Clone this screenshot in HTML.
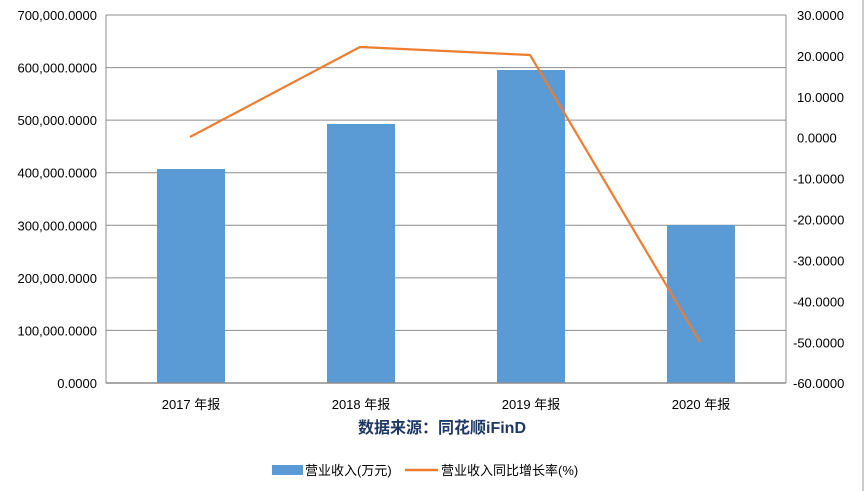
<!DOCTYPE html>
<html><head><meta charset="utf-8"><style>
html,body{margin:0;padding:0;background:#fff;}
svg{display:block;}
text{font-family:"Liberation Sans","Noto Sans CJK SC",sans-serif;font-size:13px;fill:#000;}
</style></head><body>
<svg width="866" height="491" viewBox="0 0 866 491">
<line x1="863" y1="0" x2="863" y2="491" stroke="#999" stroke-width="1"/>
<g stroke="#8c8c8c" stroke-width="1">
<line x1="106" y1="15" x2="786" y2="15"/>
<line x1="106" y1="67.6" x2="786" y2="67.6"/>
<line x1="106" y1="120.1" x2="786" y2="120.1"/>
<line x1="106" y1="172.7" x2="786" y2="172.7"/>
<line x1="106" y1="225.3" x2="786" y2="225.3"/>
<line x1="106" y1="277.9" x2="786" y2="277.9"/>
<line x1="106" y1="330.4" x2="786" y2="330.4"/>
<line x1="106" y1="15" x2="106" y2="383"/>
<line x1="786" y1="15" x2="786" y2="383"/>
</g>
<g fill="#5b9bd5">
<rect x="157" y="169" width="68" height="214"/>
<rect x="327" y="124" width="68" height="259"/>
<rect x="497" y="70" width="68" height="313"/>
<rect x="667" y="225" width="68" height="158"/>
</g>
<line x1="106" y1="383" x2="786" y2="383" stroke="#8c8c8c" stroke-width="1.5"/>
<polyline points="190,137 360,47 530,55 700,342" fill="none" stroke="#ed7d31" stroke-width="2.2"/>
<g text-anchor="end">
<text x="97" y="20">700,000.0000</text>
<text x="97" y="72.6">600,000.0000</text>
<text x="97" y="125.1">500,000.0000</text>
<text x="97" y="177.7">400,000.0000</text>
<text x="97" y="230.3">300,000.0000</text>
<text x="97" y="282.9">200,000.0000</text>
<text x="97" y="335.4">100,000.0000</text>
<text x="97" y="388">0.0000</text>
</g>
<g text-anchor="start">
<text x="797" y="20">30.0000</text>
<text x="797" y="61">20.0000</text>
<text x="797" y="102">10.0000</text>
<text x="797" y="142.7">0.0000</text>
<text x="793" y="183.6">-10.0000</text>
<text x="793" y="224.6">-20.0000</text>
<text x="793" y="265.5">-30.0000</text>
<text x="793" y="306.4">-40.0000</text>
<text x="793" y="347.3">-50.0000</text>
<text x="793" y="388">-60.0000</text>
</g>
<g text-anchor="middle">
<text x="191" y="409">2017 年报</text>
<text x="361" y="409">2018 年报</text>
<text x="531" y="409">2019 年报</text>
<text x="701" y="409">2020 年报</text>
<text x="442" y="433" style="font-size:16px;font-weight:bold;fill:#1f3864">数据来源：同花顺iFinD</text>
</g>
<rect x="272" y="465" width="31" height="10" fill="#5b9bd5"/>
<text x="305" y="475">营业收入(万元)</text>
<line x1="405" y1="470" x2="438" y2="470" stroke="#ed7d31" stroke-width="2.5"/>
<text x="441" y="475">营业收入同比增长率(%)</text>
</svg>
</body></html>
